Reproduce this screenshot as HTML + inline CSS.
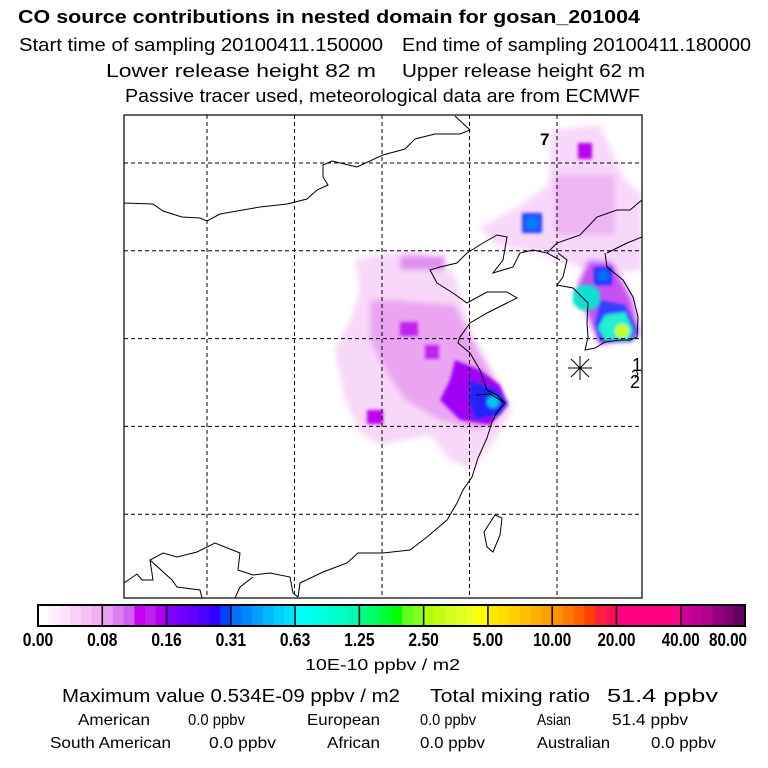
<!DOCTYPE html>
<html><head><meta charset="utf-8"><style>
html,body{margin:0;padding:0;background:#fff}
svg{display:block}
text{font-family:"Liberation Sans",sans-serif;fill:#000}
</style></head><body>
<svg width="768" height="768" viewBox="0 0 768 768">
<defs>
<filter id="bl" x="-20%" y="-20%" width="140%" height="140%"><feGaussianBlur stdDeviation="3"/></filter>
<filter id="bl2" x="-20%" y="-20%" width="140%" height="140%"><feGaussianBlur stdDeviation="1.5"/></filter>
<clipPath id="mapclip"><rect x="124" y="115" width="518" height="483"/></clipPath>
</defs>
<g>
<text x="18" y="23" font-size="18" font-weight="bold" textLength="622" lengthAdjust="spacingAndGlyphs">CO  source contributions in nested domain for gosan_201004</text>
<text x="19" y="51" font-size="18" textLength="364" lengthAdjust="spacingAndGlyphs">Start time of sampling 20100411.150000</text>
<text x="402" y="51" font-size="18" textLength="349" lengthAdjust="spacingAndGlyphs">End time of sampling 20100411.180000</text>
<text x="106" y="77" font-size="18" textLength="270" lengthAdjust="spacingAndGlyphs">Lower release height   82 m</text>
<text x="402" y="77" font-size="18" textLength="243" lengthAdjust="spacingAndGlyphs">Upper release height   62 m</text>
<text x="125" y="102" font-size="18" textLength="515" lengthAdjust="spacingAndGlyphs">Passive tracer used, meteorological data are from ECMWF</text>
</g>
<g clip-path="url(#mapclip)">
<g filter="url(#bl)">
<polygon fill="#f8d8f8" points="355,260 380,255 420,250 455,275 470,330 500,385 512,410 495,440 470,470 450,460 430,435 380,445 360,432 345,400 335,350 350,320 360,290"/>
<polygon fill="#f8d8fa" points="480,228 520,205 548,185 552,130 600,125 625,180 642,195 642,270 600,275 565,262 535,252 495,245"/>
<polygon fill="#eaa4f2" points="370,300 395,300 455,305 470,335 495,380 505,410 480,430 440,420 405,400 385,370 370,340"/>
<rect fill="#e08ef0" x="400" y="256" width="45" height="14"/>
<rect fill="#eeb4f4" x="555" y="175" width="60" height="60"/>
<polygon fill="#c850f2" points="588,260 612,262 632,300 640,335 600,345 585,310 578,285"/>
</g>
<g filter="url(#bl2)">
<polygon fill="#a000f4" points="455,360 480,370 500,385 508,405 490,425 460,420 440,400 450,380"/>
<rect fill="#c000f0" x="367" y="410" width="16" height="14"/>
<rect fill="#c020f0" x="400" y="322" width="18" height="14"/>
<rect fill="#c020f0" x="425" y="345" width="14" height="14"/>
<rect fill="#b800f0" x="578" y="143" width="14" height="16"/>
<polygon fill="#2020ff" points="470,380 495,388 508,402 500,415 475,420 468,400"/>
<circle fill="#00c8f0" cx="493" cy="402" r="6"/>
<rect fill="#2040ff" x="522" y="213" width="20" height="20"/>
<rect fill="#0080ff" x="526" y="217" width="12" height="12"/>
<rect fill="#2030ff" x="594" y="267" width="18" height="18"/>
<rect fill="#0070ff" x="598" y="271" width="10" height="10"/>
<polygon fill="#10e0d0" points="580,285 593,285 600,292 600,303 593,310 580,310 573,303 573,292"/>
<polygon fill="#3040ff" points="600,300 625,305 637,330 632,342 600,342 595,325"/>
<polygon fill="#20f0d0" points="605,315 625,312 633,330 630,340 605,340 598,328"/>
<circle fill="#c8ff20" cx="622" cy="331" r="7"/>
</g>
<g stroke="#000" stroke-width="1" stroke-dasharray="4,3" id="grid"></g>
<g fill="none" stroke="#000" stroke-width="1">
<polyline points="124,203 153,204 163,211 182,217 200,218 207,221 220,214 260,207 287,204 307,199 317,190 328,185 323,177 323,165 332,161 357,167 383,155 405,149 415,139 435,134 460,134 470,130 455,116"/>
<polyline points="124,583 137,574 142,580 153,580 150,560 163,553 177,557 197,552 215,543 240,553 238,570 253,575 270,573 290,577 293,593 298,597"/>
<polyline points="150,560 172,580 177,587 200,590 202,598"/>
<polyline points="235,598 240,587 253,577"/>
<polyline points="642,200 630,210 617,210 597,217 580,235 557,243 547,253 560,260"/>
<polyline points="642,237 627,243 607,253"/>
<polyline points="547,253 533,250 520,253 513,267 493,273 503,260 507,237 497,235 483,243 467,253 457,263 440,267 430,270 437,283 453,293 467,303 487,292 507,292 517,298 507,303 487,313 470,323 460,337 458,343 470,353 480,370 487,390 497,395 505,403 497,412 492,422 487,438 478,458 472,477 463,490 457,503 447,520 427,537 410,550 383,553 358,553 347,563 323,572 300,583 298,597"/>
<polyline points="558,253 567,260 563,277 557,285 573,288 588,303 587,323 588,337 585,350 595,348 605,342 620,340 630,340 637,337 638,317 633,297 623,280 607,267 605,253"/>
<polyline points="476,395 490,394 505,403"/>
<polygon points="495,515 502,518 500,535 493,552 487,547 484,532"/>
<polyline points="632,372 636,370 638,374 635,378"/>
</g>
<text x="540" y="145" font-size="17" font-weight="bold">7</text>
<text x="632" y="371" font-size="18">1</text>
<text x="630" y="388" font-size="18">2</text>
<g stroke="#000" stroke-width="1">
<line x1="568" y1="368" x2="592" y2="368"/><line x1="580" y1="356" x2="580" y2="380"/>
<line x1="571" y1="359" x2="589" y2="377"/><line x1="571" y1="377" x2="589" y2="359"/>
</g>
</g>
<rect x="124" y="115" width="518" height="483" fill="none" stroke="#000" stroke-width="1.2"/>
<g id="colorbar"></g>
<text x="305" y="670" font-size="16" textLength="155" lengthAdjust="spacingAndGlyphs">10E-10 ppbv / m2</text>
<g font-size="16">
<text x="62" y="702" font-size="18" textLength="338" lengthAdjust="spacingAndGlyphs">Maximum value  0.534E-09 ppbv / m2</text>
<text x="430" y="702" font-size="18" textLength="160" lengthAdjust="spacingAndGlyphs">Total mixing ratio</text>
<text x="607" y="702" font-size="18" textLength="111" lengthAdjust="spacingAndGlyphs">51.4 ppbv</text>
<text x="78" y="725" textLength="72" lengthAdjust="spacingAndGlyphs">American</text>
<text x="188" y="725" textLength="57" lengthAdjust="spacingAndGlyphs">0.0 ppbv</text>
<text x="307" y="725" textLength="73" lengthAdjust="spacingAndGlyphs">European</text>
<text x="420" y="725" textLength="56" lengthAdjust="spacingAndGlyphs">0.0 ppbv</text>
<text x="537" y="725" textLength="34" lengthAdjust="spacingAndGlyphs">Asian</text>
<text x="612" y="725" textLength="76" lengthAdjust="spacingAndGlyphs">51.4 ppbv</text>
<text x="50" y="748" textLength="121" lengthAdjust="spacingAndGlyphs">South American</text>
<text x="209" y="748" textLength="67" lengthAdjust="spacingAndGlyphs">0.0 ppbv</text>
<text x="327" y="748" textLength="53" lengthAdjust="spacingAndGlyphs">African</text>
<text x="420" y="748" textLength="65" lengthAdjust="spacingAndGlyphs">0.0 ppbv</text>
<text x="537" y="748" textLength="73" lengthAdjust="spacingAndGlyphs">Australian</text>
<text x="651" y="748" textLength="65" lengthAdjust="spacingAndGlyphs">0.0 ppbv</text>
</g>
</svg>
<script>
const tickLabels = ["0.00","0.08","0.16","0.31","0.63","1.25","2.50","5.00","10.00","20.00","40.00","80.00"];
const segmentColors = [
 ["#ffffff","#fff0fc","#fde0fa","#fad0f8","#f6c0f6","#f2b0f4"],
 ["#e8a0f4","#dc80f4","#d060f4","#c800f4","#c020f0","#b000f4"],
 ["#8000ff","#7000ff","#6000ff","#4c00ff","#3000ff","#0040ff"],
 ["#0070ff","#0088ff","#00a0ff","#00b8ff","#00d0ff","#00e0ff"],
 ["#00ffff","#00fff0","#00ffe0","#00ffd0","#00ffc0","#00f8b0"],
 ["#00ff80","#00ff60","#00ff30","#00ff00","#60ff20","#80ff20"],
 ["#b0ff00","#c0ff10","#d0ff20","#e0ff20","#f0ff20","#ffff00"],
 ["#ffe800","#ffdc00","#ffd000","#ffc000","#ffb000","#ffa000"],
 ["#ff9000","#ff7800","#ff6000","#ff4000","#ff2040","#ff1050"],
 ["#ff0080","#ff0080","#ff0080","#ff0080","#ff0080","#ff0088"],
 ["#d0009c","#c00094","#b0008c","#980080","#800070","#600060"]
];
const gridLons = [1,2,3,4,5];
const gridLats = [1,2,3,4,5];
const NS='http://www.w3.org/2000/svg';
const mapX0=124, mapY0=115, mapW=518, mapH=483;
const gx = i => mapX0 + i*87.5 - 4.5;
const gy = i => mapY0 + i*87.8 - 39.8;
const grid=document.getElementById('grid');
gridLons.forEach(i=>{
 const l=document.createElementNS(NS,'line');
 
 
 l.setAttribute('x1',gx(i));l.setAttribute('x2',gx(i));l.setAttribute('y1',mapY0);l.setAttribute('y2',mapY0+mapH);
 grid.appendChild(l);
});
gridLats.forEach(i=>{
 const l=document.createElementNS(NS,'line');
 
 
 l.setAttribute('y1',gy(i));l.setAttribute('y2',gy(i));l.setAttribute('x1',mapX0);l.setAttribute('x2',mapX0+mapW);
 grid.appendChild(l);
});
const cb=document.getElementById('colorbar');
const cbX0=38, cbX1=745, cbY=605, cbH=21;
const segW=(cbX1-cbX0)/segmentColors.length;
const cx = i => cbX0 + i*segW;
segmentColors.forEach((cols,i)=>{
 const sw=segW/cols.length;
 cols.forEach((c,j)=>{
  const r=document.createElementNS(NS,'rect');
  
  
  r.setAttribute('x',cx(i)+j*sw);r.setAttribute('y',cbY);r.setAttribute('width',sw+0.5);r.setAttribute('height',cbH);r.setAttribute('fill',c);
  cb.appendChild(r);
 });
});
for(let i=0;i<=segmentColors.length;i++){
 const l=document.createElementNS(NS,'line');
 
 
 l.setAttribute('x1',cx(i));l.setAttribute('x2',cx(i));l.setAttribute('y1',cbY);l.setAttribute('y2',cbY+cbH);l.setAttribute('stroke','#000');l.setAttribute('stroke-width','1.5');
 cb.appendChild(l);
}
const fr=document.createElementNS(NS,'rect');


fr.setAttribute('x',cbX0);fr.setAttribute('y',cbY);fr.setAttribute('width',cbX1-cbX0);fr.setAttribute('height',cbH);fr.setAttribute('fill','none');fr.setAttribute('stroke','#000');fr.setAttribute('stroke-width','2');
cb.appendChild(fr);
tickLabels.forEach((t,i)=>{
 const tx=document.createElementNS(NS,'text');
 
 
 let x=cx(i); if(i===0) x=Math.max(x,22); if(i===tickLabels.length-1) x=Math.min(x,728);
 tx.setAttribute('x',x);tx.setAttribute('y',646);tx.setAttribute('font-size','18');tx.setAttribute('font-weight','bold');tx.setAttribute('text-anchor','middle');
 tx.setAttribute('textLength', t.length*7.6);
 tx.setAttribute('lengthAdjust','spacingAndGlyphs');
 tx.textContent=t;
 cb.appendChild(tx);
});
</script>
</body></html>
